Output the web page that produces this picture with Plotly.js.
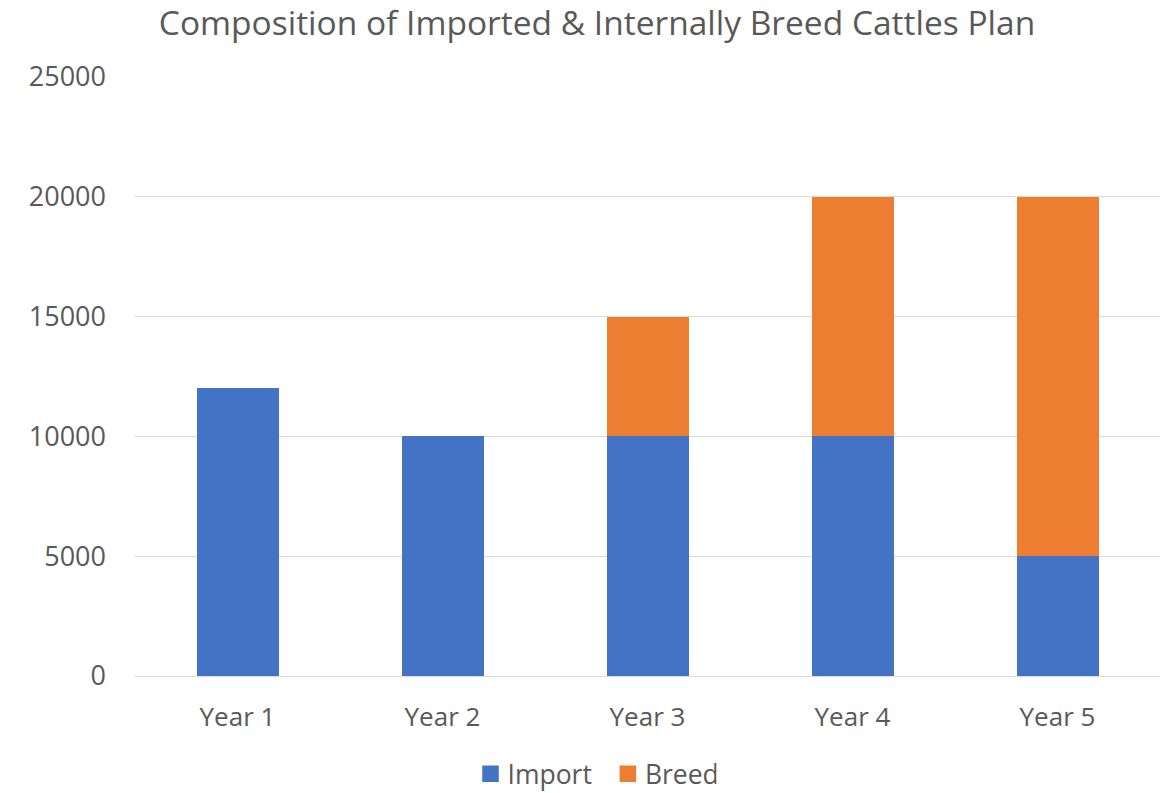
<!DOCTYPE html>
<html>
<head>
<meta charset="utf-8">
<script src="https://cdn.plot.ly/plotly-3.0.1.min.js"></script>
<style>
  html, body { margin: 0; padding: 0; background: #ffffff; }
  #chart { width: 1168px; height: 793px; }
</style>
</head>
<body>
<div id="chart"></div>
<script>
// Cattle plan: imported vs internally bred head count per year
const years = ["Year 1", "Year 2", "Year 3", "Year 4", "Year 5"];
const importCounts = [12000, 10000, 10000, 10000, 5000];
const breedCounts = [0, 0, 5000, 10000, 15000];
const yTicks = [0, 5000, 10000, 15000, 20000, 25000];

const FONT = "Open Sans, Liberation Sans, sans-serif";
const TEXT = "#595959";

const traces = [
  {
    type: "bar",
    name: "Import",
    x: years,
    y: importCounts,
    marker: { color: "#4472C4", line: { width: 0 } },
    hoverinfo: "x+y+name"
  },
  {
    type: "bar",
    name: "Breed",
    x: years,
    y: breedCounts,
    marker: { color: "#ED7D31", line: { width: 0 } },
    hoverinfo: "x+y+name"
  }
];

const layout = {
  width: 1168,
  height: 793,
  barmode: "stack",
  bargap: 0.6,
  paper_bgcolor: "#ffffff",
  plot_bgcolor: "#ffffff",
  margin: { l: 135, r: 8, t: 77, b: 117, autoexpand: false },
  font: { family: FONT, color: TEXT, size: 26 },
  title: {
    text: "Composition of Imported &amp; Internally Breed Cattles Plan",
    font: { family: FONT, size: 33.5, color: TEXT },
    x: 597 / 1168,
    xref: "container",
    xanchor: "center",
    y: 1 - 23.5 / 793,
    yref: "container",
    yanchor: "middle"
  },
  xaxis: {
    type: "category",
    showgrid: false,
    showline: true,
    linecolor: "#d9d9d9",
    linewidth: 1,
    ticks: "",
    ticklabelstandoff: 18,
    tickfont: { family: FONT, size: 26, color: TEXT },
    automargin: false,
    fixedrange: true
  },
  yaxis: {
    range: [0, 25000],
    tickvals: yTicks,
    ticktext: yTicks.map(String),
    showgrid: true,
    gridcolor: "#d9d9d9",
    gridwidth: 1,
    zeroline: false,
    showline: false,
    ticks: "",
    ticklabelstandoff: 28,
    tickfont: { family: FONT, size: 27, color: TEXT },
    automargin: false,
    fixedrange: true
  },
  showlegend: true,
  legend: {
    orientation: "h",
    x: (592 - 135) / 1025,
    xanchor: "center",
    y: (676 - 774) / 599,
    yanchor: "middle",
    font: { family: FONT, size: 26.5, color: TEXT },
    itemwidth: 30,
    traceorder: "normal"
  }
};

Plotly.newPlot("chart", traces, layout, { displayModeBar: false, staticPlot: true }).then(gd => {
  // Larger square legend swatches, sitting closer to their labels
  gd.querySelectorAll(".legend .legendpoints path").forEach(p => {
    const base = p.getAttribute("transform") || "";
    p.setAttribute("transform", base + " translate(3,0) scale(1.38)");
  });
  // A little more room between the two legend entries
  const items = gd.querySelectorAll(".legend .traces");
  if (items.length > 1) {
    const t = items[1].getAttribute("transform") || "";
    items[1].setAttribute("transform", t + " translate(8,0)");
  }
});
</script>
</body>
</html>
